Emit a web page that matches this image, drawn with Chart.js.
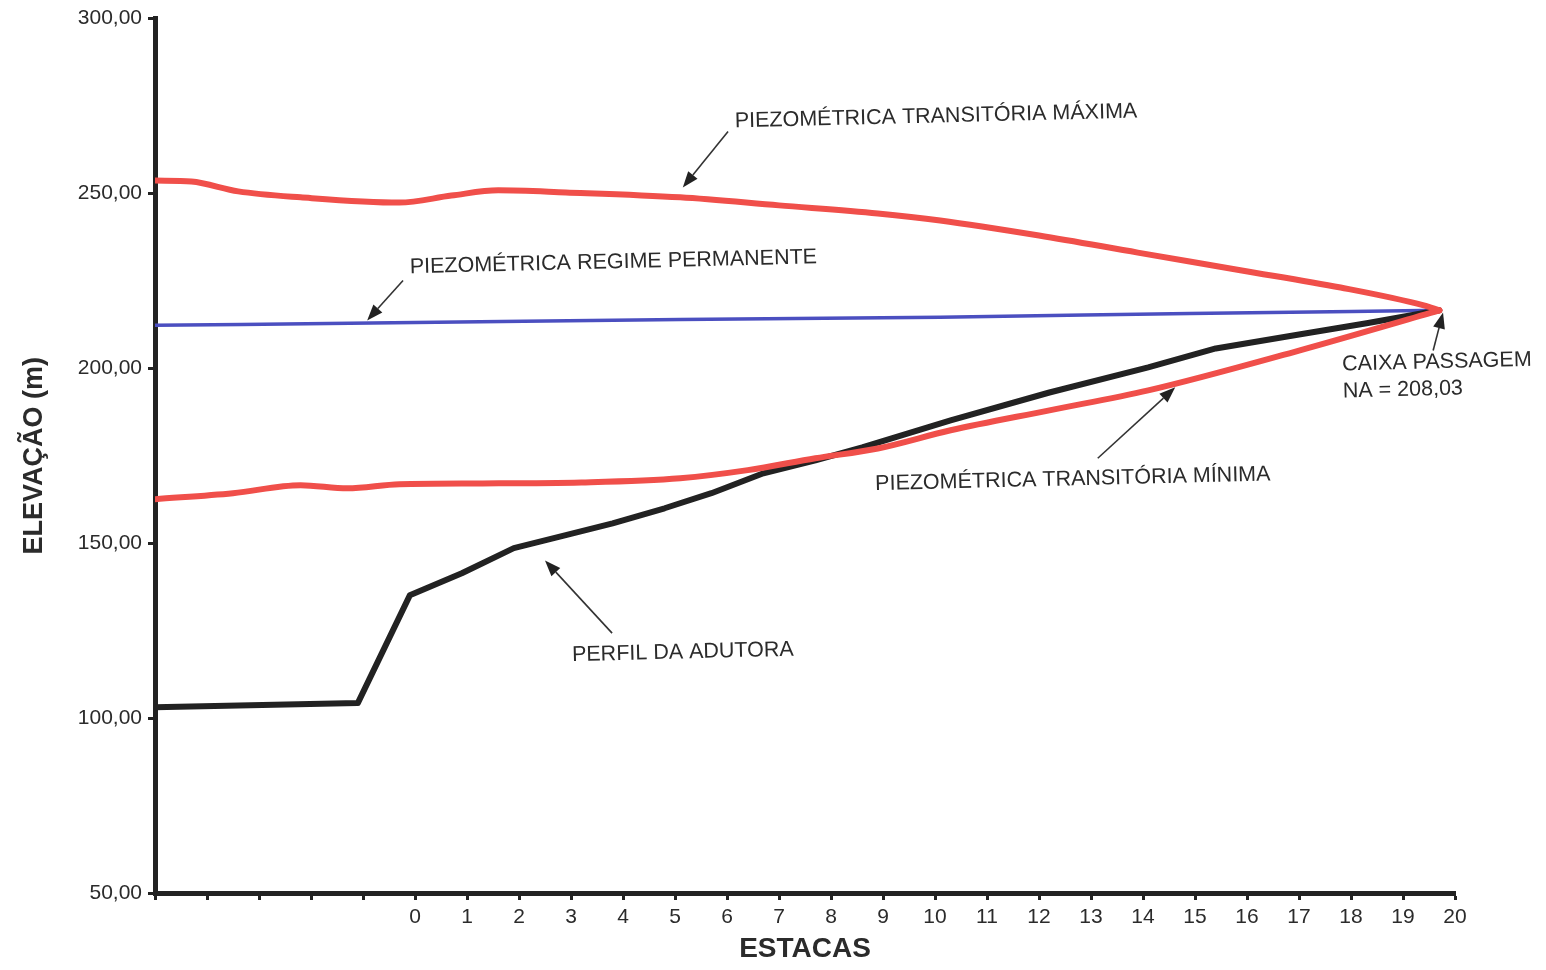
<!DOCTYPE html>
<html>
<head>
<meta charset="utf-8">
<script src="https://cdn.jsdelivr.net/npm/chart.js@4/dist/chart.umd.min.js"></script>
<style>
  html, body { margin: 0; padding: 0; background: #fff; }
  #wrap { width: 1546px; height: 970px; }
</style>
</head>
<body>
<div id="wrap"><canvas id="chart" width="1546" height="970"></canvas></div>
<script>
// estacas (posição ao longo da adutora) e elevações
const maxX = [-5, -4.3, -3.4, -2.2, -0.3, 0.7, 1.6, 2.9, 5.1, 7.0, 8.9, 10.1, 12.0, 13.9, 15.9, 17.8, 19.4, 19.7];
const maxY = [253.7, 253.4, 250.6, 248.9, 247.4, 249.4, 250.9, 250.3, 248.9, 246.6, 244.3, 242.3, 238.0, 233.1, 228.0, 223.1, 218.0, 216.6];

const minX = [-5, -3.5, -2.2, -1.3, -0.3, 1.3, 3.2, 5.1, 6.4, 7.7, 8.9, 10.3, 12.2, 14.1, 17.0, 19.7];
const minY = [162.6, 164.3, 166.6, 165.7, 166.9, 167.1, 167.4, 168.6, 170.9, 174.3, 177.1, 182.3, 188.0, 193.7, 205.1, 216.6];

const perfilX = [-5, -1.1, -0.1, 0.9, 1.9, 2.9, 3.8, 4.8, 5.7, 6.7, 7.7, 8.6, 10.3, 12.2, 14.1, 15.4, 17.0, 18.3, 19.7];
const perfilY = [103.1, 104.3, 135.1, 141.4, 148.6, 152.3, 155.7, 160.0, 164.3, 170.0, 173.7, 177.4, 185.1, 193.1, 200.3, 205.7, 209.7, 212.9, 216.6];

const permX = [-5, 0, 5.1, 10.1, 14.9, 19.7];
const permY = [212.3, 213.1, 214.0, 214.6, 215.7, 216.6];

const yTicks = [50, 100, 150, 200, 250, 300];

// textos e setas em coordenadas dos eixos
const labels = [
  { lines: ["PIEZOMÉTRICA TRANSITÓRIA MÁXIMA"], x: 6.15, y: 270.6 },
  { lines: ["PIEZOMÉTRICA REGIME PERMANENTE"], x: -0.1, y: 228.9 },
  { lines: ["CAIXA PASSAGEM", "NA = 208,03"], x: 17.83, y: 201.1 },
  { lines: ["PIEZOMÉTRICA TRANSITÓRIA MÍNIMA"], x: 8.85, y: 166.9 },
  { lines: ["PERFIL DA ADUTORA"], x: 3.02, y: 118.0 }
];
const arrows = [
  { from: [6.02, 267.7], to: [5.15, 251.7] },
  { from: [-0.23, 225.1], to: [-0.92, 213.7] },
  { from: [19.58, 205.1], to: [19.77, 216.0] },
  { from: [13.13, 174.3], to: [14.62, 194.6] },
  { from: [3.79, 124.3], to: [2.5, 145.1] }
];

const pts = (xs, ys) => xs.map((x, i) => ({ x: x, y: ys[i] }));
const FONT = "'Liberation Sans', Arial, sans-serif";
const TEXT = "#2b2b2b";

const notes = {
  id: "notes",
  afterDatasetsDraw(chart) {
    const ctx = chart.ctx;
    const sx = chart.scales.x, sy = chart.scales.y;
    ctx.save();
    ctx.strokeStyle = "#333";
    ctx.fillStyle = "#222";
    ctx.lineWidth = 1.6;
    arrows.forEach(a => {
      const x1 = sx.getPixelForValue(a.from[0]), y1 = sy.getPixelForValue(a.from[1]);
      const x2 = sx.getPixelForValue(a.to[0]), y2 = sy.getPixelForValue(a.to[1]);
      const ang = Math.atan2(y2 - y1, x2 - x1);
      const len = 16, wid = 6;
      const bx = x2 - len * Math.cos(ang), by = y2 - len * Math.sin(ang);
      ctx.beginPath();
      ctx.moveTo(x1, y1);
      ctx.lineTo(bx, by);
      ctx.stroke();
      ctx.beginPath();
      ctx.moveTo(x2, y2);
      ctx.lineTo(bx + wid * Math.sin(ang), by - wid * Math.cos(ang));
      ctx.lineTo(bx - wid * Math.sin(ang), by + wid * Math.cos(ang));
      ctx.closePath();
      ctx.fill();
    });
    ctx.fillStyle = TEXT;
    ctx.font = "21.5px " + FONT;
    ctx.textBaseline = "middle";
    ctx.textAlign = "left";
    labels.forEach(l => {
      const px = sx.getPixelForValue(l.x), py = sy.getPixelForValue(l.y);
      ctx.save();
      ctx.translate(px, py);
      ctx.rotate(-1.4 * Math.PI / 180);
      l.lines.forEach((t, i) => ctx.fillText(t, 0, i * 27));
      ctx.restore();
    });
    ctx.restore();
  }
};

new Chart(document.getElementById("chart"), {
  type: "line",
  data: {
    datasets: [
      { data: pts(maxX, maxY), borderColor: "#f04f4a", borderWidth: 6 },
      { data: pts(minX, minY), borderColor: "#f04f4a", borderWidth: 6 },
      { data: pts(perfilX, perfilY), borderColor: "#222222", borderWidth: 6, tension: 0, cubicInterpolationMode: "default" },
      { data: pts(permX, permY), borderColor: "#4b4fc0", borderWidth: 3.5 }
    ]
  },
  options: {
    responsive: false,
    animation: false,
    events: [],
    layout: { padding: { top: 18, right: 91, left: 0, bottom: 0 } },
    elements: {
      point: { radius: 0 },
      line: { tension: 0.25, borderCapStyle: "round", borderJoinStyle: "round", cubicInterpolationMode: "monotone" }
    },
    plugins: { legend: { display: false }, tooltip: { enabled: false } },
    scales: {
      x: {
        type: "linear",
        min: -5,
        max: 20,
        afterFit: s => { s.height = 77; },
        ticks: {
          stepSize: 1,
          autoSkip: false,
          maxRotation: 0,
          padding: 5,
          color: TEXT,
          font: { family: FONT, size: 21 },
          callback: v => (v < 0 ? "" : String(v))
        },
        grid: { display: true, drawOnChartArea: false, drawTicks: true, tickLength: 7, tickWidth: 3, tickColor: "#222" },
        border: { display: true, color: "#222", width: 5 },
        title: { display: true, text: "ESTACAS", color: TEXT, font: { family: FONT, size: 28, weight: "bold" }, padding: { top: 2 } }
      },
      y: {
        type: "linear",
        min: 50,
        max: 300,
        afterFit: s => { s.width = 155; },
        afterBuildTicks: s => { s.ticks = yTicks.map(v => ({ value: v })); },
        ticks: {
          padding: 6,
          color: TEXT,
          font: { family: FONT, size: 21 },
          callback: v => v.toFixed(2).replace(".", ",")
        },
        grid: { display: true, drawOnChartArea: false, drawTicks: true, tickLength: 7, tickWidth: 3, tickColor: "#222" },
        border: { display: true, color: "#222", width: 5 },
        title: { display: true, text: "ELEVAÇÃO (m)", color: TEXT, font: { family: FONT, size: 27, weight: "bold" }, padding: { top: 18, bottom: 0 } }
      }
    }
  },
  plugins: [notes]
});
</script>
</body>
</html>
